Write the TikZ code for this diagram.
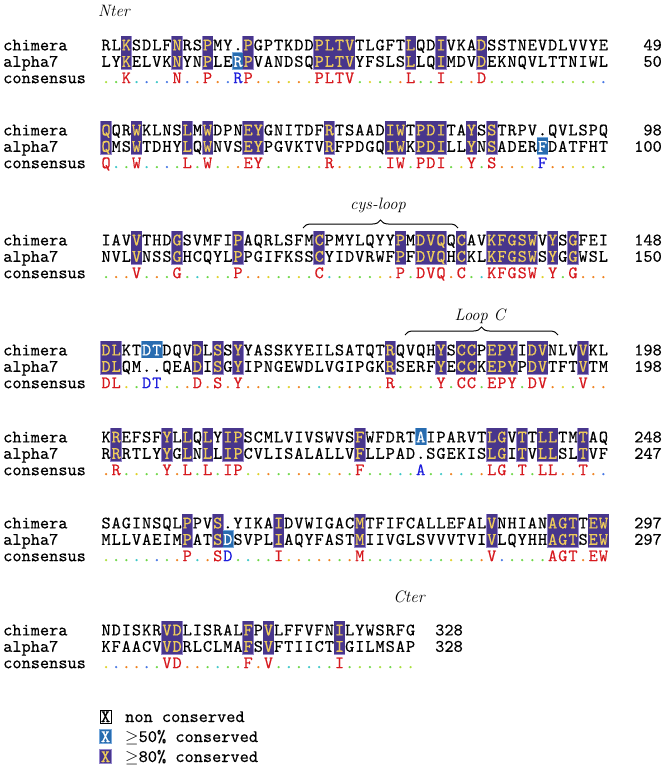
\documentclass[tikz,border=0pt]{standalone}
\usepackage{fontspec}
\setmonofont{lmmono10-regular}[Extension=.otf,FakeBold=0.35]
\usetikzlibrary{decorations.pathreplacing}
\definecolor{purp}{RGB}{72,54,140}
\definecolor{purpedge}{RGB}{150,135,205}
\definecolor{blu}{RGB}{40,108,176}
\definecolor{bluedge}{RGB}{120,170,220}
\definecolor{ylw}{RGB}{240,205,90}
\definecolor{cR}{RGB}{215,25,30}
\definecolor{cB}{RGB}{30,30,220}
\definecolor{cg}{RGB}{110,215,70}
\definecolor{cl}{RGB}{170,225,60}
\definecolor{cc}{RGB}{60,200,200}
\definecolor{cb}{RGB}{70,120,230}
\definecolor{co}{RGB}{240,130,30}
\definecolor{cy}{RGB}{225,210,40}
\tikzset{
  res/.style={inner sep=0pt,anchor=base,font=\fontsize{17.5}{20}\selectfont\ttfamily},
  lbl/.style={inner sep=0pt,font=\fontsize{17.5}{20}\selectfont\ttfamily},
  ital/.style={inner sep=0pt,anchor=base,font=\fontsize{16.5}{20}\selectfont\itshape},
  bracedraw/.style={decorate,decoration={brace,amplitude=8pt},line width=1pt}
}
\newcount\colidx
\def\cw{10.15}
\def\xo{101}
\def\outlstep#1#2\end{%
  \if#1P\fill[purpedge] (\xo+\the\colidx*\cw-0.7,\ryc-9.5) rectangle (\xo+\the\colidx*\cw+\cw+0.7,\ryc+8.3);\fi
  \if#1B\fill[bluedge] (\xo+\the\colidx*\cw-0.7,\ryc-9.5) rectangle (\xo+\the\colidx*\cw+\cw+0.7,\ryc+8.3);\fi
  \global\advance\colidx by 1
  \ifx\relax#2\relax\else\outlstep#2\end\fi}
\def\fillstep#1#2\end{%
  \if#1P\fill[purp] (\xo+\the\colidx*\cw,\ryc-8.8) rectangle (\xo+\the\colidx*\cw+\cw,\ryc+7.6);\fi
  \if#1B\fill[blu] (\xo+\the\colidx*\cw,\ryc-8.8) rectangle (\xo+\the\colidx*\cw+\cw,\ryc+7.6);\fi
  \global\advance\colidx by 1
  \ifx\relax#2\relax\else\fillstep#2\end\fi}
\def\charstep#1#2\end#3#4\end{%
  \if#3P\def\tcol{ylw}\else\if#3B\def\tcol{white}\else\def\tcol{black}\fi\fi
  \node[res,text=\tcol] at (\xo+\the\colidx*\cw+0.5*\cw,\ryc+5.4) {#1};
  \global\advance\colidx by 1
  \ifx\relax#2\relax\else\charstep#2\end#4\end\fi}
\def\consstep#1#2\end#3#4\end{%
  \node[res,text=c#3] at (\xo+\the\colidx*\cw+0.5*\cw,\ryc+5.4) {#1};
  \global\advance\colidx by 1
  \ifx\relax#2\relax\else\consstep#2\end#4\end\fi}
\newcommand\seqblock[9]{%
  \def\ryc{#1}\global\colidx=0 \outlstep#3\end
  \def\ryc{#1+16.4}\global\colidx=0 \outlstep#5\end
  \def\ryc{#1}\global\colidx=0 \fillstep#3\end
  \def\ryc{#1+16.4}\global\colidx=0 \fillstep#5\end
  \def\ryc{#1}\global\colidx=0 \charstep#2\end#3\end
  \def\ryc{#1+16.4}\global\colidx=0 \charstep#4\end#5\end
  \def\ryc{#1+32.8}\global\colidx=0 \consstep#6\end#7\end
  \node[lbl,anchor=base west] at (3,#1+5.4) {chimera};
  \node[lbl,anchor=base west] at (3,#1+21.8) {alpha7};
  \node[lbl,anchor=base west] at (3,#1+38.2) {consensus};
  \node[lbl,anchor=base east] at (\numx,#1+5.4) {#8};
  \node[lbl,anchor=base east] at (\numx,#1+21.8) {#9};
}
\begin{document}
\begin{tikzpicture}[x=1pt,y=-1pt]
\fill[white] (0,0) rectangle (666,769);
\useasboundingbox (0,0) rectangle (666,769);
\def\numx{662}
% labels
\node[ital,anchor=base west] (nter) at (98,16.5) {Nter};
\seqblock{45}
{RLKSDLFNRSPMY.PGPTKDDPLTVTLGFTLQDIVKADSSTNEVDLVVYE}
{..P....P..P...P......PPPP.....P..P...P............}
{LYKELVKNYNPLERPVANDSQPLTVYFSLSLLQIMDVDEKNQVLTTNIWL}
{..P....P..P..BP......PPPP.....P..P...P............}
{..K....N..P..RP......PLTV.....L..I...D............}
{lgRcbcbRboRobBRoyoyoyRRRRgygloRggRygoRlglglglglglb}
{49}{50}
\seqblock{130}
{QQRWKLNSLMWDPNEYGNITDFRTSAADIWTPDITAYSSTRPV.QVLSPQ}
{P..P....P.P...PP......P.....PP.PPP..P.P...........}
{QMSWTDHYLQWNVSEYPGVKTVRFPDGQIWKPDILLYNSADERFDATFHT}
{P..P....P.P...PP......P.....PP.PPP..P.P....B......}
{Q..W....L.W...EY......R.....IW.PDI..Y.S....F......}
{RcgRcgbgRgRgyoRRgglyglRoyglgRRgRRRgyRgRooyyBooyygg}
{98}{100}
% cys-loop
\node[ital] (cysl) at (378,209) {cys-loop};
\coordinate (cysa) at (303,228);
\coordinate (cysb) at (458,228);
\draw[bracedraw] (cysa) -- (cysb);
\seqblock{240}
{IAVVTHDGSVMFIPAQRLSFMCPMYLQYYPMDVQQCAVKFGSWVYSGFEI}
{...P...P.....P.......P.......P.PPP.P..PPPPP.P.P...}
{NVLVNSSGHCQYLPPGIFKSSCYIDVRWFPFDVQHCKLKFGSWSYGGWSL}
{...P...P.....P.......P.......P.PPP.P..PPPPP.P.P...}
{...V...G.....P.......C.......P.DVQ.C..KFGSW.Y.G...}
{gooRgogRgcgygRooyggygRcgyggyoRgRRRoRgcRRRRRyRgRooo}
{148}{150}
% Loop C
\node[ital] (loopc) at (480,320) {Loop C};
\coordinate (lca) at (405,335);
\coordinate (lcb) at (558,335);
\draw[bracedraw] (lca) -- (lcb);
\seqblock{350}
{DLKTDTDQVDLSSYYASSKYEILSATQTRQVQHYSCCPEPYIDVNLVVKL}
{PP..BB...P.P.P..............P....P.PP.PPP.PP...P..}
{DLQM..QEADISGYIPNGEWDLVGIPGKRSERFYECCKEPYPDVTFTVTM}
{PP.......P.P.P..............P....P.PP.PPP.PP...P..}
{DL..DT...D.S.Y..............R....Y.CC.EPY.DV...V..}
{RRygBBygoRoRoRooggyogcgyoggyRgyygRgRRgRRRgRRoygRoo}
{198}{198}
\seqblock{437}
{KREFSFYLLQLYIPSCMLVIVSWVSFWFDRTAIPARVTLGVTTLLTMTAQ}
{.P....P.P.P.PP...........P.....B......PP.P.PP..P..}
{RRRTLYYGLNLLIPCVLISALALLVFLLPAD.SGEKISLGITVLLSLTVF}
{.P....P.P.P.PP...........P............PP.P.PP..P..}
{.R....Y.L.L.IP...........F.....A......LG.T.LL..T..}
{oRgyggRoRgRgRRlyoggoogyogRgggcgBgcocgoRRgRgRRooRob}
{248}{247}
\seqblock{523}
{SAGINSQLPPVS.YIKAIDVWIGACMTFIFCALLEFALVNHIANAGTTEW}
{........P..P.....P.......P............P.....PPP.PP}
{MLLVAEIMPATSDSVPLIAQYFASTMIIVGLSVVVTVIVLQYHHAGTSEW}
{........P..PB....P.......P............P.....PPP.PP}
{........P..SD....I.......M............V.....AGT.EW}
{lggcgbgoRcoRBgcggRyogoogoRggcgglcgyggoRbggggRRRoRR}
{297}{297}
% Cter
\node[ital] (cter) at (409,602) {Cter};
\def\numx{463}
\seqblock{630}
{NDISKRVDLISRALFPVLFFVFNILYWSRFG}
{......PP......P.P......P.......}
{KFAACVVDRLCLMAFSVFTIICTIGILMSAP}
{......PP......P.P......P.......}
{......VD......F.V......I.......}
{yboobgRRoogcggRoRgcgccgRglglgll}
{328}{328}
% legend
\draw[line width=0.7pt] (100,710) rectangle (111,723);
\node[res] (lx1) at (105.5,722) {X};
\node[lbl,anchor=base west] (lt1) at (125,722) {non conserved};
\fill[bluedge] (99.4,729.4) rectangle (111.6,743.6);
\fill[blu] (100,730) rectangle (111,743);
\node[res,text=white] (lx2) at (105.5,742) {X};
\node[lbl,anchor=base west] (lt2) at (125,742) {$\geq$50\% conserved};
\fill[purpedge] (99.4,749.4) rectangle (111.6,763.6);
\fill[purp] (100,750) rectangle (111,763);
\node[res,text=ylw] (lx3) at (105.5,762) {X};
\node[lbl,anchor=base west] (lt3) at (125,762) {$\geq$80\% conserved};
\end{tikzpicture}
\end{document}
